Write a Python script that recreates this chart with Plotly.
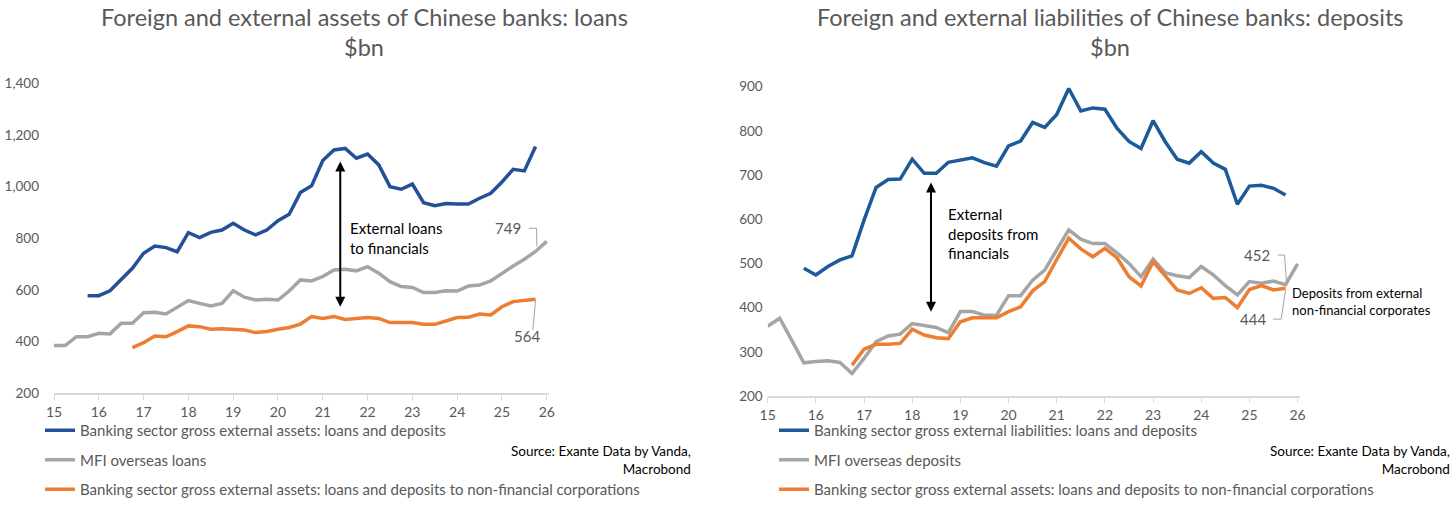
import numpy as np
import plotly.graph_objects as go

# ---- data (quarterly, x = year 15..26) ----
loans_all_start = 15.75
loans_all = [578, 578, 597, 639, 684, 742, 770, 764, 748, 822, 803, 823, 832, 858, 832, 813,
             832, 868, 893, 977, 1003, 1101, 1142, 1148, 1110, 1126, 1084, 1000, 990, 1010, 938,
             926, 935, 933, 933, 955, 974, 1018, 1067, 1061, 1155]
loans_mfi_start = 15.0
loans_mfi = [385, 385, 419, 419, 432, 430, 471, 471, 512, 514, 507, 532, 559, 548, 538, 548,
             597, 572, 561, 564, 561, 596, 639, 635, 652, 677, 680, 674, 690, 665, 632, 613,
             610, 590, 590, 597, 596, 615, 619, 635, 665, 693, 719, 749, 788]
loans_nfc_start = 16.75
loans_nfc = [377, 396, 422, 419, 439, 461, 458, 448, 450, 448, 445, 435, 439, 448, 455, 468,
             497, 490, 497, 486, 490, 493, 490, 474, 474, 474, 467, 467, 480, 493, 494, 507,
             503, 535, 555, 560, 564]

dep_all_start = 15.75
dep_all = [489, 474, 493, 508, 517, 598, 672, 690, 691, 736, 704, 704, 729, 734, 739, 728,
           720, 766, 777, 819, 808, 837, 896, 845, 852, 849, 806, 776, 760, 823, 776, 736,
           727, 753, 727, 713, 634, 675, 677, 670, 655]
dep_mfi_start = 15.0
dep_mfi = [358, 376, 326, 275, 278, 280, 276, 251, 285, 323, 336, 340, 364, 359, 355, 343,
           391, 391, 383, 383, 427, 427, 462, 485, 530, 576, 555, 545, 545, 524, 500, 470,
           510, 479, 472, 468, 493, 474, 450, 429, 459, 455, 460, 452, 499]
dep_nfc_start = 16.75
dep_nfc = [270, 306, 317, 317, 319, 351, 338, 332, 330, 368, 377, 377, 377, 391, 402, 438,
           459, 509, 557, 533, 515, 534, 513, 470, 449, 504, 472, 440, 432, 445, 421, 423,
           400, 441, 450, 440, 444]

year_ticks = list(range(15, 27))
year_labels = [str(y) for y in year_ticks]

BLUE_L = '#24509a'
BLUE_R = '#1d5a9a'
GREY = '#a5a5a5'
ORANGE = '#ed7d31'
TXT = '#595959'
FONT = 'Lato'

W, H = 1456, 506


def qx(start, values):
    return start + 0.25 * np.arange(len(values))


def px(v):
    return v / W


def py(v):
    return 1 - v / H


fig = go.Figure()

left_series = [
    (loans_all_start, loans_all, BLUE_L, 'Banking sector gross external assets: loans and deposits'),
    (loans_mfi_start, loans_mfi, GREY, 'MFI overseas loans'),
    (loans_nfc_start, loans_nfc, ORANGE,
     'Banking sector gross external assets: loans and deposits to non-financial corporations'),
]
right_series = [
    (dep_all_start, dep_all, BLUE_R, 'Banking sector gross external liabilities: loans and deposits'),
    (dep_mfi_start, dep_mfi, GREY, 'MFI overseas deposits'),
    (dep_nfc_start, dep_nfc, ORANGE,
     'Banking sector gross external assets: loans and deposits to non-financial corporations'),
]

for i, (start, vals, color, name) in enumerate(left_series):
    fig.add_trace(go.Scatter(
        x=qx(start, vals), y=vals, name=name, mode='lines',
        line=dict(color=color, width=3.5), xaxis='x', yaxis='y',
        legend='legend', legendgroup=f'l{i}'
    ))
for i, (start, vals, color, name) in enumerate(right_series):
    fig.add_trace(go.Scatter(
        x=qx(start, vals), y=vals, name=name, mode='lines',
        line=dict(color=color, width=3.5), xaxis='x2', yaxis='y2',
        legend='legend2', legendgroup=f'r{i}'
    ))

axis_font = dict(family=FONT, size=14, color=TXT)
xaxis_common = dict(
    tickmode='array', tickvals=year_ticks, ticktext=year_labels,
    showline=True, linecolor='#d9d9d9', linewidth=1.5,
    ticks='outside', ticklen=5, tickcolor='#d9d9d9', automargin=False,
    showgrid=False, zeroline=False, tickfont=axis_font, range=[15, 26.05]
)
yaxis_common = dict(showgrid=False, zeroline=False, showline=False, automargin=False,
                    tickfont=dict(family=FONT, size=13.5, color=TXT))

# legends sit on the bottom edge so they do not push the margins
legend_common = dict(
    orientation='v', xanchor='left', yanchor='bottom', y=0,
    bgcolor='rgba(0,0,0,0)',
    font=dict(family=FONT, size=15, color=TXT), tracegroupgap=7, itemwidth=30,
)

fig.update_layout(
    width=W, height=H,
    margin=dict(l=0, r=0, t=0, b=0),
    paper_bgcolor='white', plot_bgcolor='white',
    font=dict(family=FONT, color=TXT),
    xaxis=dict(domain=[px(54), px(549)], anchor='y', **xaxis_common),
    yaxis=dict(domain=[py(393.3), py(83.3)], anchor='x', range=[200, 1400],
               tickvals=[200, 400, 600, 800, 1000, 1200, 1400], tickformat=',',
               ticklabelstandoff=14, **yaxis_common),
    xaxis2=dict(domain=[px(767.7), px(1300)], anchor='y2', **xaxis_common),
    yaxis2=dict(domain=[py(396), py(86.7)], anchor='x2', range=[200, 900],
                dtick=100, ticklabelstandoff=4, **yaxis_common),
    legend=dict(x=px(40), **legend_common),
    legend2=dict(x=px(774), **legend_common),
)

# titles
for cx, txt in [(364, 'Foreign and external assets of Chinese banks: loans'),
                (1110, 'Foreign and external liabilities of Chinese banks: deposits')]:
    for cy, t in [(17, txt), (47, '$bn')]:
        fig.add_annotation(x=px(cx), y=py(cy), xref='paper', yref='paper',
                           xanchor='center', yanchor='middle',
                           text=t, showarrow=False, font=dict(family=FONT, size=23.5, color=TXT))

# source notes
for rx in [693, 1452]:
    fig.add_annotation(x=px(rx), y=py(460), xref='paper', yref='paper',
                       xanchor='right', yanchor='middle', align='right', showarrow=False,
                       text='Source: Exante Data by Vanda,<br>Macrobond',
                       font=dict(family=FONT, size=13.5, color='black'))

lab = dict(family=FONT, size=14, color='black')
num = dict(family=FONT, size=15, color=TXT)

# left chart labels
fig.add_annotation(x=26.18, y=1147, xref='x', yref='y', text='All external loans',
                   xanchor='left', showarrow=False, font=lab)
fig.add_annotation(x=26.33, y=806, xref='x', yref='y', text='Overseas loans',
                   xanchor='left', showarrow=False, font=lab)
fig.add_annotation(x=26.15, y=540, xref='x', yref='y', align='left',
                   text='Loans to external<br>non-financial<br>corporates',
                   xanchor='left', showarrow=False, font=lab)
fig.add_annotation(x=21.56, y=801, xref='x', yref='y', align='left',
                   text='External loans<br>to financials',
                   xanchor='left', showarrow=False, font=dict(family=FONT, size=15, color='black'))
fig.add_annotation(x=25.46, y=840, xref='x', yref='y', text='749',
                   xanchor='right', showarrow=False, font=num)
fig.add_annotation(x=25.55, y=422, xref='x', yref='y', text='564',
                   showarrow=False, font=num)
fig.add_shape(type='path', xref='x', yref='y', path='M 25.60 839 L 25.77 839 L 25.78 768',
              line=dict(color=GREY, width=1))
fig.add_shape(type='line', xref='x', yref='y', x0=25.75, y0=560, x1=25.69, y1=445,
              line=dict(color=GREY, width=1))
fig.add_annotation(x=21.39, y=1097, ax=21.39, ay=529, xref='x', yref='y', axref='x', ayref='y',
                   text='', showarrow=True, arrowside='end+start', arrowhead=2, startarrowhead=2,
                   arrowsize=1, startarrowsize=1, arrowwidth=2, arrowcolor='black')

# right chart labels
fig.add_annotation(x=26.09, y=660, xref='x2', yref='y2', text='All external deposits',
                   xanchor='left', showarrow=False, font=lab)
fig.add_annotation(x=26.19, y=515, xref='x2', yref='y2', text='Overseas deposits',
                   xanchor='left', showarrow=False, font=lab)
fig.add_annotation(x=25.84, y=415, xref='x2', yref='y2', align='left',
                   text='Deposits from external<br>non-financial corporates',
                   xanchor='left', showarrow=False, font=dict(family=FONT, size=13, color='black'))
fig.add_annotation(x=18.71, y=567, xref='x2', yref='y2', align='left',
                   text='External<br>deposits from<br>financials',
                   xanchor='left', showarrow=False, font=dict(family=FONT, size=15, color='black'))
fig.add_annotation(x=25.46, y=519, xref='x2', yref='y2', text='452',
                   xanchor='right', showarrow=False, font=num)
fig.add_annotation(x=25.38, y=374, xref='x2', yref='y2', text='444',
                   xanchor='right', showarrow=False, font=num)
fig.add_shape(type='path', xref='x2', yref='y2', path='M 25.59 519 L 25.73 519 L 25.77 456',
              line=dict(color=GREY, width=1))
fig.add_shape(type='path', xref='x2', yref='y2', path='M 25.49 374 L 25.66 374 L 25.75 440',
              line=dict(color=GREY, width=1))
fig.add_annotation(x=18.39, y=683, ax=18.39, ay=387, xref='x2', yref='y2', axref='x2', ayref='y2',
                   text='', showarrow=True, arrowside='end+start', arrowhead=2, startarrowhead=2,
                   arrowsize=1, startarrowsize=1, arrowwidth=2, arrowcolor='black')

fig.write_html("out.html", config={'displayModeBar': False},
               post_script="document.body.style.margin = '0';")
